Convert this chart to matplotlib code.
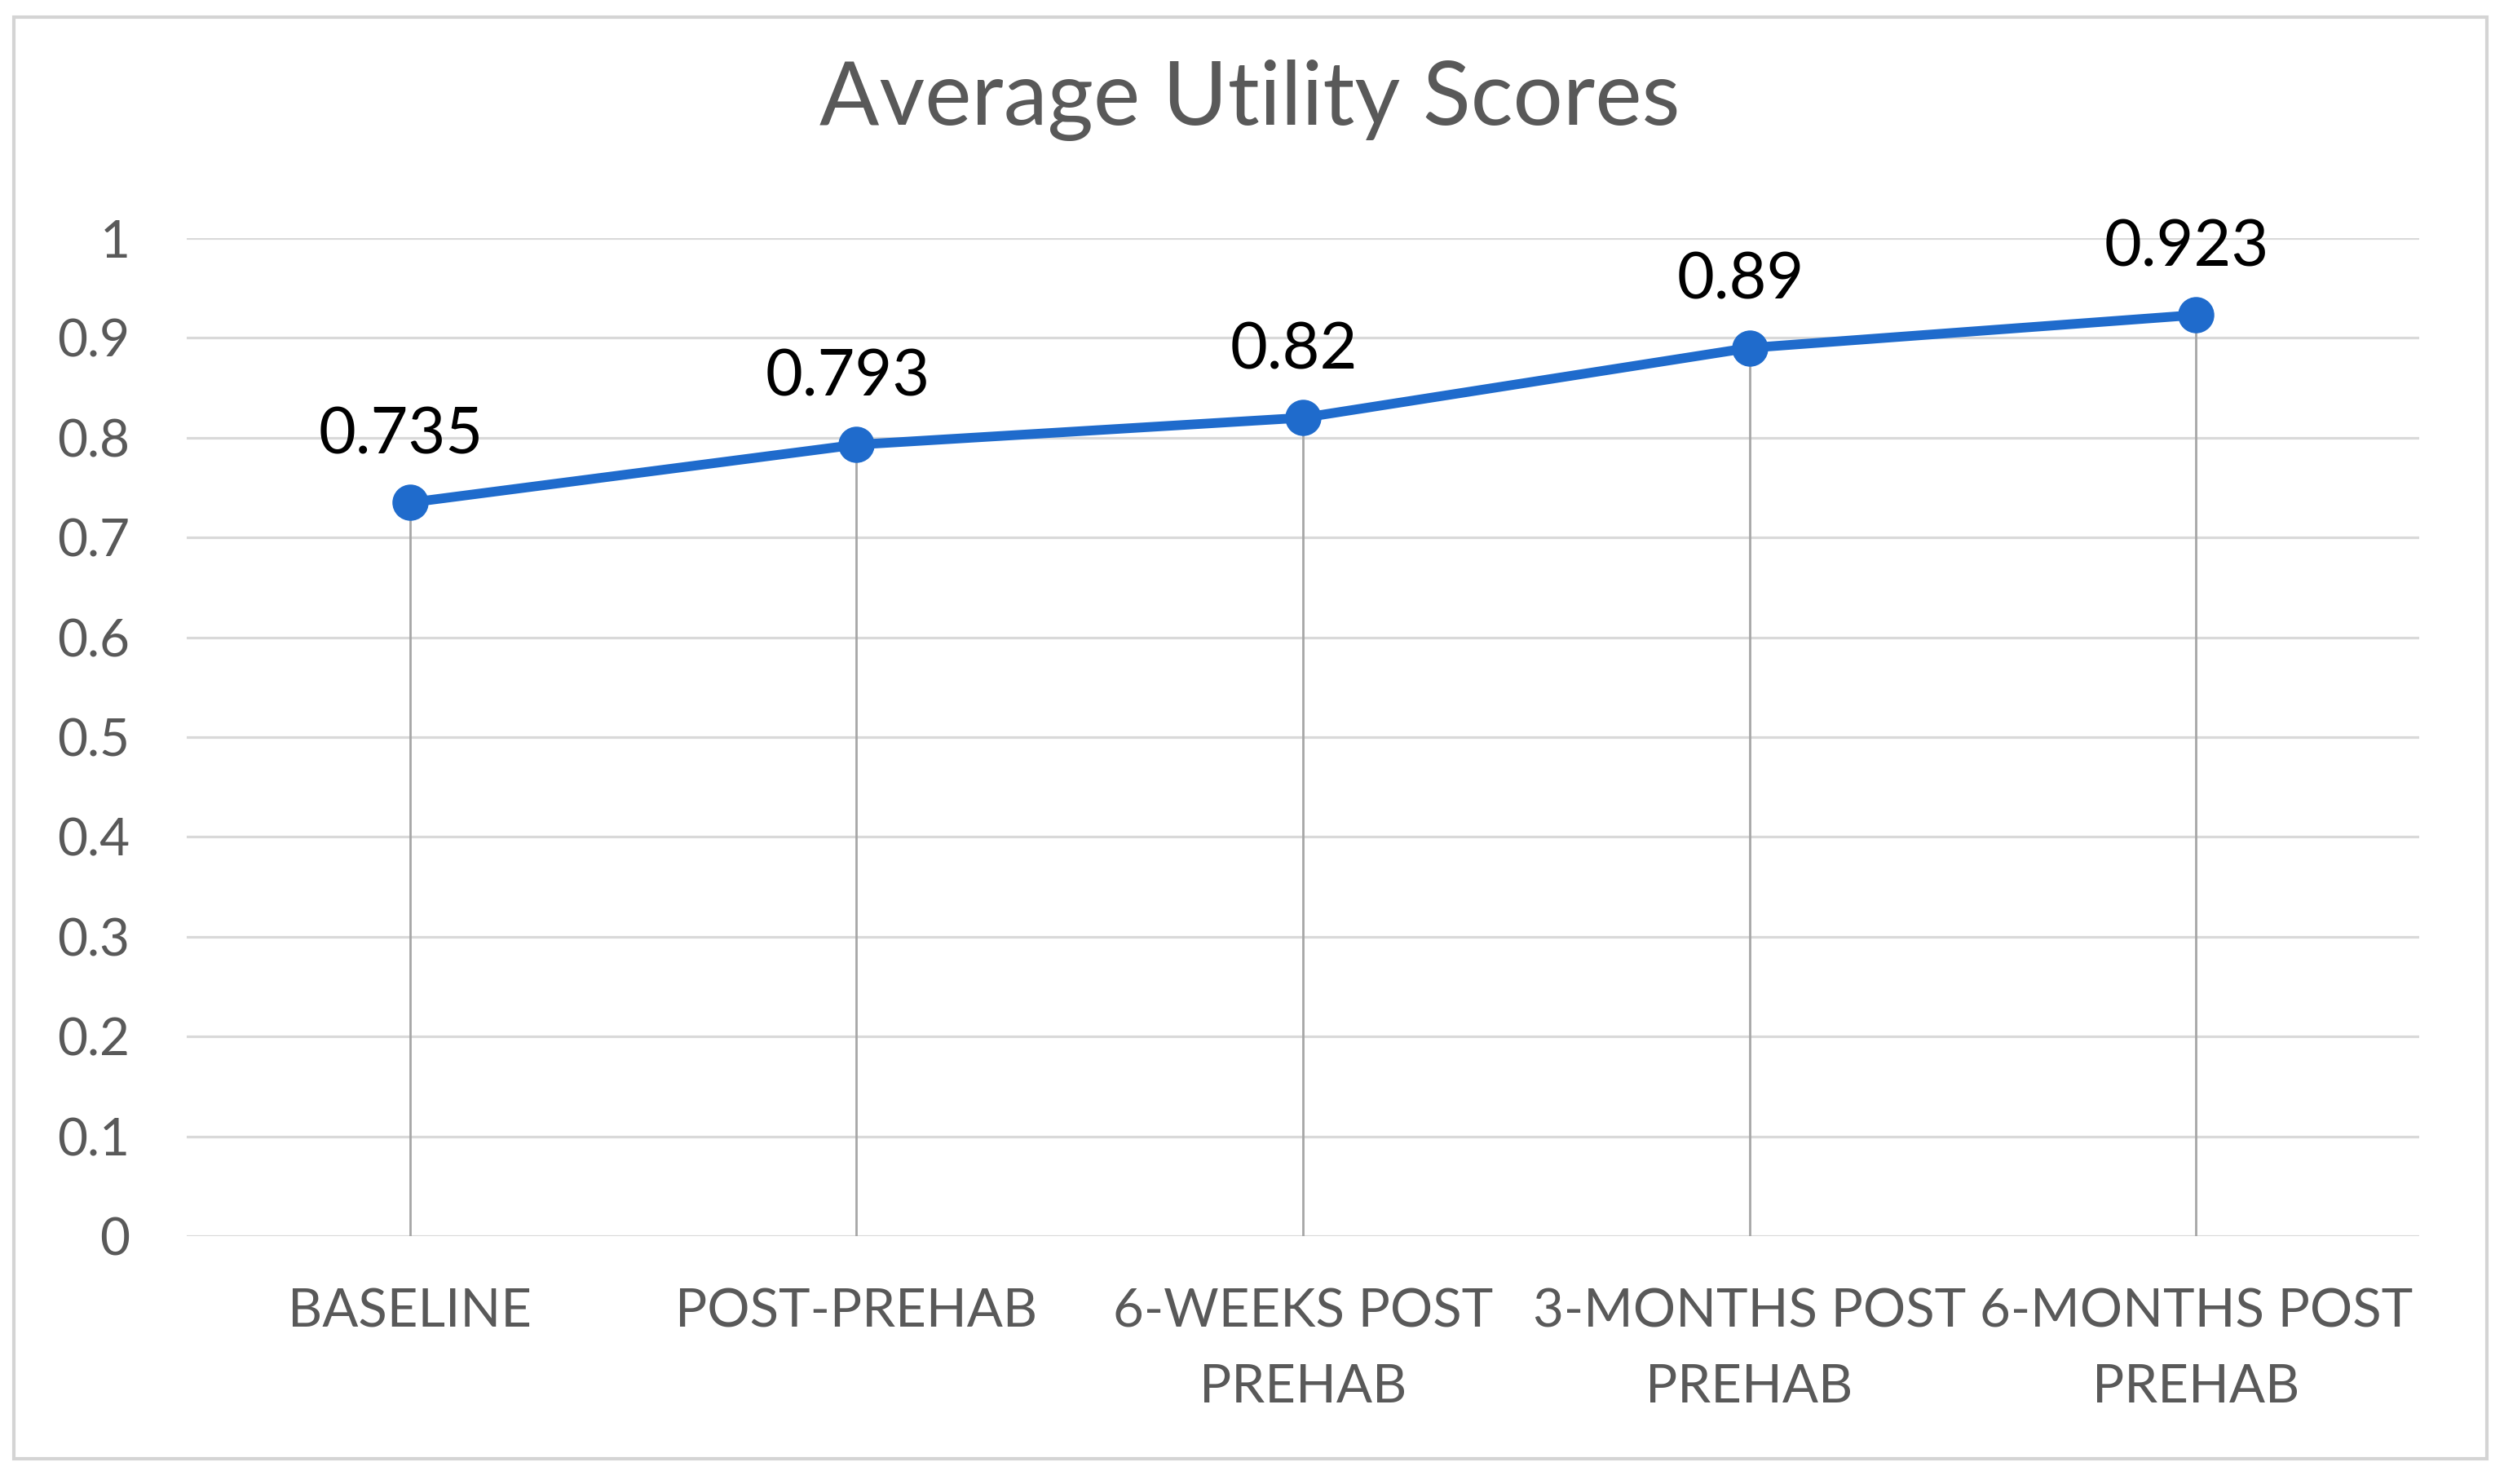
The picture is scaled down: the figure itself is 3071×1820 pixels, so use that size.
import matplotlib.pyplot as plt
from matplotlib.patches import Rectangle
import numpy as np

# Data
categories = ["BASELINE", "POST-PREHAB", "6-WEEKS POST\nPREHAB",
              "3-MONTHS POST\nPREHAB", "6-MONTHS POST\nPREHAB"]
scores = [0.735, 0.793, 0.82, 0.89, 0.923]
score_labels = ["0.735", "0.793", "0.82", "0.89", "0.923"]
y_ticks = [0, 0.1, 0.2, 0.3, 0.4, 0.5, 0.6, 0.7, 0.8, 0.9, 1.0]
y_tick_labels = ["0", "0.1", "0.2", "0.3", "0.4", "0.5", "0.6", "0.7", "0.8", "0.9", "1"]

plt.rcParams['font.family'] = ['Lato', 'DejaVu Sans']

line_color = '#1F6BCC'
text_gray = '#595959'
grid_gray = '#D9D9D9'

fig = plt.figure(figsize=(30.71, 18.20), dpi=100)
ax = fig.add_axes([229 / 3071, 304 / 1820, (2967 - 229) / 3071, (1516 - 292) / 1820])

x = np.arange(len(categories))

# gridlines
for yv in y_ticks:
    ax.axhline(yv, color=grid_gray, lw=2.3, zorder=1)

# drop lines
ax.vlines(x, 0, scores, color='#A6A6A6', lw=2.0, zorder=2)

ax.plot(x, scores, color=line_color, lw=8.5, marker='o', markersize=31,
        solid_capstyle='round', zorder=3)

for xi, v, lab in zip(x, scores, score_labels):
    ax.annotate(lab, (xi, v), xytext=(-8, 59), textcoords='offset points',
                ha='center', va='center', fontsize=57, color='black')

ax.set_xlim(-0.5, len(categories) - 0.5)
ax.set_ylim(0, 1)
ax.set_yticks(y_ticks)
ax.set_yticklabels(y_tick_labels)
ax.set_xticks(x)
ax.set_xticklabels(categories, linespacing=1.7)
ax.tick_params(axis='y', length=0, pad=50, labelsize=46, labelcolor=text_gray)
ax.tick_params(axis='x', length=0, pad=46, labelsize=47, labelcolor=text_gray)
for s in ax.spines.values():
    s.set_visible(False)

fig.text(1533 / 3071, 1 - 153 / 1820, "Average Utility Scores", ha='center',
         va='baseline', fontsize=78, color=text_gray)

# chart border
fig.patches.append(Rectangle((17 / 3071, 1 - 1789 / 1820), (3050 - 17) / 3071,
                             (1789 - 21) / 1820, transform=fig.transFigure,
                             fill=False, edgecolor='#D4D4D4', lw=3))

fig.savefig("out.png", dpi=100)
